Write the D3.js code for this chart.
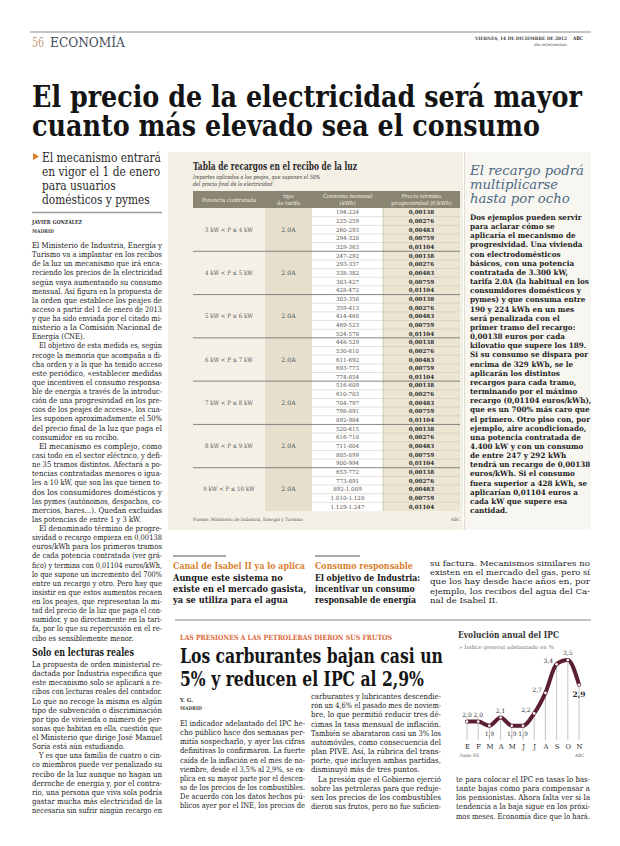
<!DOCTYPE html>
<html><head><meta charset="utf-8">
<script src="https://cdn.jsdelivr.net/npm/d3@7"></script>
<style>body{margin:0;background:#fff}svg{display:block}</style>
</head><body>
<svg id="page" width="620" height="846"></svg>
<script>
// ---------- DATA ----------
const months = ["E","F","M","A","M","J","J","A","S","O","N"];
const ipc = [2.0, 2.0, 1.9, 2.1, 1.9, 1.9, 2.2, 2.7, 3.4, 3.5, 2.9];
const ipcLabelPlace = ["above","above","below","above","below","below","left","left","left","above","belowBold"];

const potencias = ["3 kW < P ≤ 4 kW","4 kW < P ≤ 5 kW","5 kW < P ≤ 6 kW","6 kW < P ≤ 7 kW","7 kW < P ≤ 8 kW","8 kW < P ≤ 9 kW","9 kW < P ≤ 10 kW"];
const tarifas = ["2.0A","2.0A","2.0A","2.0A","2.0A","2.0A","2.0A"];
const consumos = [
  ["194-224","225-259","260-293","294-328","329-363"],
  ["247-292","293-337","338-382","383-427","428-472"],
  ["303-358","359-413","414-468","469-523","524-578"],
  ["448-529","530-610","611-692","693-773","774-854"],
  ["516-609","610-703","704-797","798-891","892-984"],
  ["520-615","616-710","711-804","805-899","900-994"],
  ["653-772","773-891","892-1.009","1.010-1.128","1.129-1.247"]
];
const precios = ["0,00138","0,00276","0,00483","0,00759","0,01104"];
const tableHeader = [["Potencia contratada"],["tipo","de tarifa"],["Consumo mensual","(kWh)"],["Precio término","progresividad (€/kWh)"]];

// ---------- TEXTS ----------
const titleLines = ["El precio de la electricidad será mayor","cuanto más elevado sea el consumo"];
const deckLines = ["El mecanismo entrará","en vigor el 1 de enero","para usuarios","domésticos y pymes"];
const leftUpper = [
"El Ministerio de Industria, Energía y","Turismo va a implantar en los recibos","de la luz un mecanismo que irá enca-",
"reciendo los precios de la electricidad","según vaya aumentando su consumo","mensual. Así figura en la propuesta de",
"la orden que establece los peajes de","acceso a partir del 1 de enero de 2013","y que ha sido enviada por el citado mi-",
"nisterio a la Comisión Nacional de","Energía (CNE).|",
"\tEl objetivo de esta medida es, según","recoge la memoria que acompaña a di-","cha orden y a la que ha tenido acceso",
"este periódico, «establecer medidas","que incentiven el consumo responsa-","ble de energía a través de la introduc-",
"ción de una progresividad en los pre-","cios de los peajes de acceso», los cua-","les suponen aproximadamente el 50%",
"del precio final de la luz que paga el","consumidor en su recibo.|",
"\tEl mecanismo es complejo, como","casi todo en el sector eléctrico, y defi-","ne 35 tramos distintos. Afectará a po-",
"tencias contratadas menores o igua-","les a 10 kW, que son las que tienen to-","dos los consumidores domésticos y",
"las pymes (autónomos, despachos, co-","mercios, bares...). Quedan excluidas","las potencias de entre 1 y 3 kW.|",
"\tEl denominado término de progre-","sividad o recargo empieza en 0,00138","euros/kWh para los primeros tramos",
"de cada potencia contratada (ver grá-","fico) y termina con 0,01104 euros/kWh,","lo que supone un incremento del 700%",
"entre un recargo y otro. Pero hay que","insistir en que estos aumentos recaen","en los peajes, que representan la mi-",
"tad del precio de la luz que paga el con-","sumidor, y no directamente en la tari-","fa, por lo que su repercusión en el re-",
"cibo es sensiblemente menor.|"];
const leftLower = [
"La propuesta de orden ministerial re-","dactada por Industria especifica que","este mecanismo solo se aplicará a re-",
"cibos con lecturas reales del contador.","Lo que no recoge la misma es algún","tipo de subvención o discriminación",
"por tipo de vivienda o número de per-","sonas que habitan en ella, cuestión que","el Ministerio que dirige José Manuel",
"Soria está aún estudiando.|","\tY es que una familia de cuatro o cin-","co miembros puede ver penalizado su",
"recibo de la luz aunque no hagan un","derroche de energía y, por el contra-","rio, una persona que viva sola podría",
"gastar mucha más electricidad de la","necesaria sin sufrir ningún recargo en"];
const contLines = ["su factura. Mecanismos similares no","existen en el mercado del gas, pero sí","que los hay desde hace años en, por","ejemplo, los recibos del agua del Ca-","nal de Isabel II.|"];
const sideTitle = ["El recargo podrá","multiplicarse","hasta por ocho"];
const sideBody = ["Dos ejemplos pueden servir","para aclarar cómo se","aplicaría el mecanismo de","progresividad. Una vivienda",
"con electrodomésticos","básicos, con una potencia","contratada de 3.300 kW,","tarifa 2.0A (la habitual en los",
"consumidores domésticos y","pymes) y que consuma entre","190 y 224 kWh en un mes","será penalizada con el",
"primer tramo del recargo:","0,00138 euros por cada","kilovatio que supere los 189.","Si su consumo se dispara por",
"encima de 329 kWh, se le","aplicarán los distintos","recargos para cada tramo,","terminando por el máximo",
"recargo (0,01104 euros/kWh),","que es un 700% más caro que","el primero. Otro piso con, por","ejemplo, aire acondicionado,",
"una potencia contratada de","4.400 kW y con un consumo","de entre 247 y 292 kWh","tendrá un recargo de 0,00138",
"euros/kWh. Si el consumo","fuera superior a 428 kWh, se","aplicarían 0,01104 euros a","cada kW que supere esa","cantidad."];
const box1Head = ["Aunque este sistema no","existe en el mercado gasista,","ya se utiliza para el agua"];
const box2Head = ["El objetivo de Industria:","incentivar un consumo","responsable de energía"];
const ipcHead = ["Los carburantes bajan casi un","5% y reducen el IPC al 2,9%"];
const colA = ["El indicador adelantado del IPC he-","cho público hace dos semanas per-","mitía sospecharlo, y ayer las cifras",
"definitivas lo confirmaron. La fuerte","caída de la inflación en el mes de no-","viembre, desde el 3,5% al 2,9%, se ex-",
"plica en su mayor parte por el descen-","so de los precios de los combustibles.","De acuerdo con los datos hechos pú-",
"blicos ayer por el INE, los precios de"];
const colB = ["carburantes y lubricantes descendie-","ron un 4,6% el pasado mes de noviem-","bre, lo que permitió reducir tres dé-",
"cimas la tasa mensual de inflación.","También se abarataron casi un 3% los","automóviles, como consecuencia del",
"plan PIVE. Así, la rúbrica del trans-","porte, que incluyen ambas partidas,","disminuyó más de tres puntos.|",
"\tLa presión que el Gobierno ejerció","sobre las petroleras para que reduje-","sen los precios de los combustibles",
"dieron sus frutos, pero no fue suficien-"];
const colC = ["te para colocar el IPC en tasas lo bas-","tante bajas como para compensar a","los pensionistas. Ahora falta ver si la",
"tendencia a la baja sigue en los próxi-","mos meses. Economía dice que lo hará.|"];

// ---------- HELPERS ----------
const svg = d3.select("#page");
const F = "'DejaVu Serif','Liberation Serif',serif";
svg.append("rect").attr("width",620).attr("height",846).attr("fill","#fff");

// Draws lines of text; horizontal condensing by a scale transform, justification by textLength
function block(lines, o) {
  const g = svg.append("g").attr("font-family", F).attr("font-size", o.size)
    .attr("font-weight", o.weight || "normal").attr("font-style", o.style || "normal")
    .attr("fill", o.fill || "#222");
  const items = lines.map((raw, i) => {
    let s = raw, indent = 0, last = !o.justify;
    if (s.startsWith("\t")) { indent = o.indent ?? 7; s = s.slice(1); }
    if (s.endsWith("|")) { last = true; s = s.slice(0, -1); }
    const t = g.append("text").attr("x", 0).attr("y", 0).text(s);
    return {t, i, indent, last, nat: t.node().getComputedTextLength()};
  });
  let f = o.factor;
  if (f == null) {
    if (o.refWidth != null) f = o.refWidth / items[o.refLine || 0].nat;
    else f = d3.median(items.filter(d => !d.last).map(d => (o.w - d.indent) / d.nat)) || 1;
  }
  items.forEach(d => {
    const x = o.x + d.indent, y = o.y + d.i * (o.lh || 0);
    d.t.attr("transform", `translate(${x},${y}) scale(${f},1)`);
    const avail = o.w ? (o.w - d.indent) : Infinity;
    if (!d.last && o.justify) d.t.attr("textLength", avail / f).attr("lengthAdjust", "spacingAndGlyphs");
    else if (d.nat * f > avail) d.t.attr("textLength", avail / f).attr("lengthAdjust", "spacingAndGlyphs");
  });
  return g;
}
function rule(x1, x2, y, c, w) {
  svg.append("line").attr("x1", x1).attr("x2", x2).attr("y1", y).attr("y2", y)
    .attr("stroke", c || "#888").attr("stroke-width", w || 1);
}

// ---------- HEADER ----------
rule(30, 591, 32, "#8a8a8a", 1);
block(["56"], {x:32, y:47, size:12, fill:"#c39a76", refWidth:12});
block(["ECONOMÍA"], {x:50, y:47, size:12, fill:"#3f4b57", refWidth:75});
block(["VIERNES, 14 DE DICIEMBRE DE 2012"], {x:475, y:40, size:4.6, weight:"bold", fill:"#444", refWidth:92});
block(["ABC"], {x:573, y:40, size:5, weight:"bold", fill:"#333", refWidth:10});
block(["abc.es/economia"], {x:534, y:46, size:4.2, fill:"#555", refWidth:33});

block(titleLines, {x:32, y:107, lh:28.5, size:29, weight:"bold", fill:"#141414", refWidth:550});

// ---------- LEFT COLUMN ----------
svg.append("path").attr("d", d3.line()([[33,153],[39,156.5],[33,160]])).attr("fill","#e07b2a");
block(deckLines, {x:42, y:162, lh:14, size:12.5, fill:"#2b2b2b", refWidth:119});
rule(32, 162, 212.5, "#9a9a9a", 1.6);
block(["JAVIER GONZÁLEZ"], {x:32, y:224, size:5.4, weight:"bold", fill:"#333", refWidth:50});
block(["MADRID"], {x:32, y:233, size:5.2, weight:"bold", fill:"#444", refWidth:22});
block(leftUpper, {x:32, y:248, lh:9.13, w:130, size:7.8, fill:"#222", justify:true});
block(["Solo en lecturas reales"], {x:32, y:655.5, size:10.5, weight:"bold", fill:"#1b1b1b", refWidth:102});
block(leftLower, {x:32, y:667, lh:9.13, w:130, size:7.8, fill:"#222", justify:true});

// ---------- TABLE BOX ----------
svg.append("rect").attr("x",168).attr("y",152).attr("width",295).attr("height",378).attr("fill","#f4f0e6");
svg.append("rect").attr("x",465).attr("y",152).attr("width",126).attr("height",378).attr("fill","#f8f6f1");
svg.append("line").attr("x1",464.5).attr("x2",464.5).attr("y1",152).attr("y2",530).attr("stroke","#e2ddd2");

block(["Tabla de recargos en el recibo de la luz"], {x:193, y:170, size:10.5, weight:"bold", fill:"#2a2a2a", refWidth:164});
block(["Importes aplicados a los peajes, que suponen el 50%","del precio final de la electricidad"],
  {x:193, y:179, lh:6.8, size:5.8, style:"italic", fill:"#333", factor:0.82});

const colEdges = [193, 265, 312, 383, 460];
const nRows = potencias.length * precios.length;
const yRow = d3.scaleBand().domain(d3.range(nRows)).range([208, 511]);
const rh = yRow.bandwidth();
// header
svg.append("rect").attr("x",colEdges[0]).attr("y",191).attr("width",colEdges[4]-colEdges[0]).attr("height",17).attr("fill","#8b8573");
tableHeader.forEach((h, c) => {
  const cx = (colEdges[c] + colEdges[c+1]) / 2;
  const g = svg.append("g").attr("font-family",F).attr("font-size",5.6).attr("fill","#f3efe4").attr("text-anchor","middle");
  h.forEach((s, k) => {
    const y = h.length === 1 ? 201.5 : 198 + k * 6.6;
    const t = g.append("text").attr("x", cx).attr("y", y).text(s);
    const nat = t.node().getComputedTextLength();
    t.attr("textLength", Math.min(nat*0.95, colEdges[c+1]-colEdges[c]-3)).attr("lengthAdjust","spacingAndGlyphs");
  });
});
// column fills
svg.append("rect").attr("x",colEdges[1]).attr("y",208).attr("width",colEdges[2]-colEdges[1]).attr("height",511-208).attr("fill","#e6dfce");
svg.append("rect").attr("x",colEdges[2]).attr("y",208).attr("width",colEdges[3]-colEdges[2]).attr("height",511-208).attr("fill","#ffffff");
svg.append("rect").attr("x",colEdges[3]).attr("y",208).attr("width",colEdges[4]-colEdges[3]).attr("height",511-208).attr("fill","#ece5d4");
svg.append("line").attr("x1",colEdges[3]).attr("x2",colEdges[3]).attr("y1",208).attr("y2",511).attr("stroke","#b9b09e").attr("stroke-width",0.6);

const rows = [];
consumos.forEach((grp, gi) => grp.forEach((c, k) => rows.push({gi, k, c, p: precios[k]})));
const tg = svg.append("g").attr("font-family",F).attr("text-anchor","middle");
rows.forEach((r, i) => {
  const y0 = yRow(i);
  if (r.k > 0) tg.append("line").attr("x1",colEdges[2]).attr("x2",colEdges[4]).attr("y1",y0).attr("y2",y0).attr("stroke","#c9c1b1").attr("stroke-width",0.5);
  tg.append("text").attr("x",(colEdges[2]+colEdges[3])/2).attr("y",y0+rh*0.5+2).attr("font-size",5.6).attr("fill","#555").text(r.c);
  tg.append("text").attr("x",(colEdges[3]+colEdges[4])/2).attr("y",y0+rh*0.5+2).attr("font-size",5.6).attr("font-weight","bold").attr("fill","#2b2b2b").text(r.p);
});
potencias.forEach((p, gi) => {
  const yTop = yRow(gi * precios.length);
  const yMid = yTop + rh * precios.length / 2;
  if (gi > 0) tg.append("line").attr("x1",colEdges[0]).attr("x2",colEdges[4]).attr("y1",yTop).attr("y2",yTop).attr("stroke","#777").attr("stroke-width",0.9);
  const t = tg.append("text").attr("x",(colEdges[0]+colEdges[1])/2).attr("y",yMid+2).attr("font-size",6.2).attr("fill","#555").text(p);
  t.attr("textLength", t.node().getComputedTextLength()*0.88).attr("lengthAdjust","spacingAndGlyphs");
  tg.append("text").attr("x",(colEdges[1]+colEdges[2])/2).attr("y",yMid+2).attr("font-size",6.2).attr("fill","#555").text(tarifas[gi]);
});
block(["Fuente: Ministerio de Industria, Energía y Turismo"], {x:193, y:521, size:4.5, fill:"#555", refWidth:110});
block(["ABC"], {x:451, y:521, size:4.5, fill:"#555", refWidth:9});

// ---------- SIDEBAR ----------
block(sideTitle, {x:470, y:175, lh:14, size:13.5, style:"italic", fill:"#4d6982", refWidth:114});
block(sideBody, {x:470, y:220, lh:9.16, size:7.5, weight:"bold", fill:"#1e1e1e", refLine:7, refWidth:119});

// ---------- MIDDLE BOXES ----------
rule(173, 226, 556, "#555", 1.2);
rule(315, 360, 556, "#555", 1.2);
block(["Canal de Isabel II ya lo aplica"], {x:173, y:569, size:9.2, weight:"bold", fill:"#d9802e", refWidth:132});
block(box1Head, {x:173, y:580.5, lh:11, size:9.4, weight:"bold", fill:"#161616", refLine:1, refWidth:133});
block(["Consumo responsable"], {x:315, y:569, size:9.2, weight:"bold", fill:"#d9802e", refWidth:98});
block(box2Head, {x:315, y:580.5, lh:11, size:9.4, weight:"bold", fill:"#161616", refWidth:105});
block(contLines, {x:430, y:566, lh:9.2, w:160, size:7.8, fill:"#222", justify:true});

// ---------- BOTTOM ARTICLE ----------
rule(175, 591, 620, "#8a8a8a", 1);
block(["LAS PRESIONES A LAS PETROLERAS DIERON SUS FRUTOS"], {x:180, y:640, size:7.2, weight:"bold", fill:"#dc6a40", refWidth:212});
block(ipcHead, {x:180, y:663, lh:23, size:19.5, weight:"bold", fill:"#141414", refWidth:263});
block(["Y. G."], {x:180, y:702, size:5.4, weight:"bold", fill:"#333", refWidth:13});
block(["MADRID"], {x:180, y:710, size:5.2, weight:"bold", fill:"#444", refWidth:22});
block(colA, {x:180, y:726, lh:9.13, w:125, size:7.8, fill:"#222", justify:true});
block(colB, {x:311, y:699, lh:9.17, w:130, size:7.8, fill:"#222", justify:true});
block(colC, {x:456, y:782, lh:9.13, w:134, size:7.8, fill:"#222", justify:true});

// ---------- IPC CHART ----------
block(["Evolución anual del IPC"], {x:458, y:638, size:9.6, weight:"bold", fill:"#333", refWidth:101});
block(["» Índice general adelantado en %"], {x:459, y:649, size:5.3, fill:"#777", refWidth:95});
const xI = d3.scalePoint().domain(d3.range(months.length)).range([467, 579]);
const yI = d3.scaleLinear().domain([1.6, 3.6]).range([738, 656]);
const cg = svg.append("g");
cg.selectAll("line.drop").data(ipc).join("line").attr("class","drop")
  .attr("x1",(d,i)=>xI(i)).attr("x2",(d,i)=>xI(i)).attr("y1",d=>yI(d)).attr("y2",yI(1.6)+2)
  .attr("stroke","#b5b5b5").attr("stroke-width",0.8);
cg.append("path").datum(ipc)
  .attr("d", d3.line().x((d,i)=>xI(i)).y(d=>yI(d)).curve(d3.curveMonotoneX))
  .attr("fill","none").attr("stroke","#5c1f2f").attr("stroke-width",4).attr("stroke-linecap","round");
cg.selectAll("circle").data(ipc).join("circle")
  .attr("cx",(d,i)=>xI(i)).attr("cy",d=>yI(d)).attr("r",1.3).attr("fill","#fff");
const fmt = d3.formatLocale({decimal:",", thousands:".", grouping:[3], currency:["","€"]}).format(".1f");
ipc.forEach((v, i) => {
  const pl = ipcLabelPlace[i];
  const x = xI(i), y = yI(v);
  const t = cg.append("text").attr("font-family",F).attr("font-size",6).attr("fill","#333").text(fmt(v));
  if (pl === "above") t.attr("x",x).attr("y",y-5).attr("text-anchor","middle");
  else if (pl === "below") t.attr("x",x).attr("y",y+10).attr("text-anchor","middle");
  else if (pl === "left") t.attr("x",x-3.5).attr("y",y-1).attr("text-anchor","end");
  else { t.attr("x",x).attr("y",y+12).attr("text-anchor","middle").attr("font-weight","bold").attr("font-size",7.5); }
});
const ax = cg.append("g").attr("transform",`translate(0,${yI(1.6)+3})`)
  .call(d3.axisBottom(xI).tickSize(0).tickFormat(i => months[i]));
ax.select(".domain").remove();
ax.selectAll("text").attr("font-family",F).attr("font-size",6.8).attr("fill","#333").attr("dy","0.7em");
block(["Fuente: INE."], {x:460, y:757, size:4.5, fill:"#555", refWidth:20});
block(["ABC"], {x:575, y:757, size:4.5, fill:"#555", refWidth:9});
</script>
</body></html>
